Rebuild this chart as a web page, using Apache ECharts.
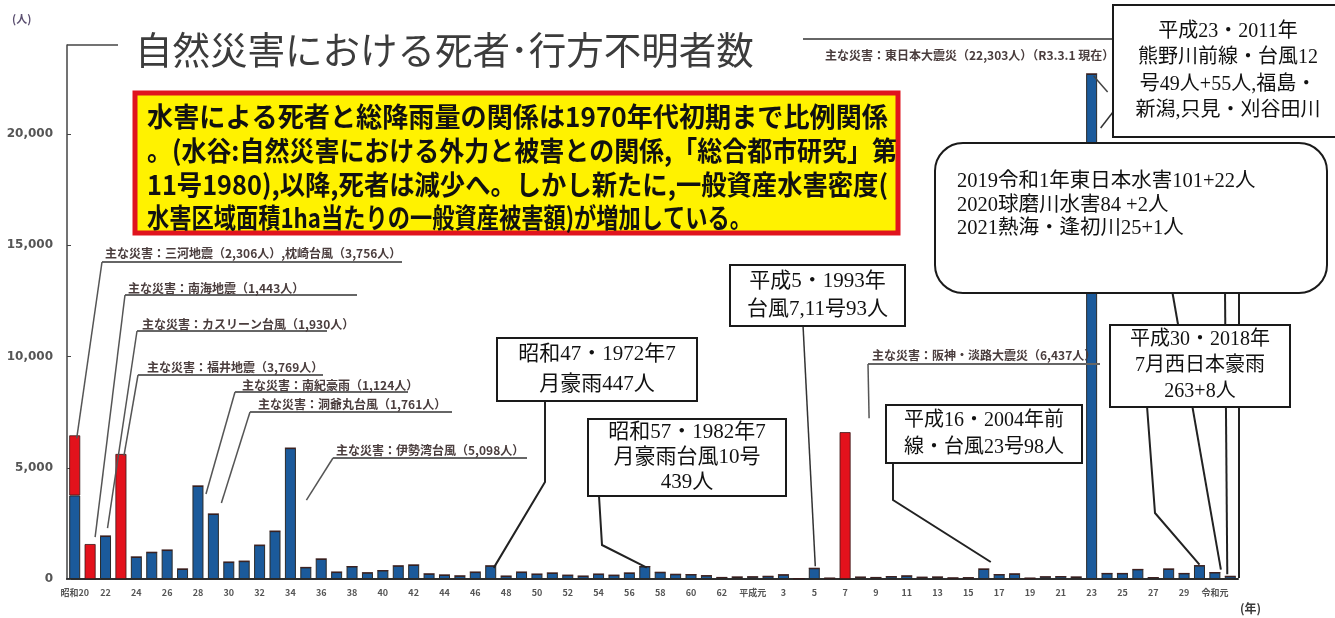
<!DOCTYPE html>
<html>
<head>
<meta charset="utf-8">
<script src="https://cdn.jsdelivr.net/npm/echarts@6/dist/echarts.min.js"></script>
<style>
  html, body { margin: 0; padding: 0; background: #fff; }
  #chart { width: 1335px; height: 618px; }
</style>
</head>
<body>
<div id="chart"></div>
<script>
// Year tick labels, 1945 (昭和20) to 2020 (令和2)
const yearLabels = [
  '昭和20','21','22','23','24','25','26','27','28','29',
  '30','31','32','33','34','35','36','37','38','39',
  '40','41','42','43','44','45','46','47','48','49',
  '50','51','52','53','54','55','56','57','58','59',
  '60','61','62','63',
  '平成元','2','3','4','5','6','7','8','9','10',
  '11','12','13','14','15','16','17','18','19','20',
  '21','22','23','24','25','26','27','28','29','30',
  '令和元','2'
];

// Deaths and missing persons per year (人): storms, floods and other disasters
const stormFlood = [
  3756, 0, 1930, 0, 990, 1200, 1300, 450, 4180, 2920,     // 1945-1954
  760, 800, 1520, 2150, 5880, 520, 900, 310, 560, 280,     // 1955-1964
  380, 590, 630, 230, 180, 140, 310, 590, 130, 310,        // 1965-1974
  220, 270, 170, 130, 220, 170, 270, 560, 300, 210,        // 1975-1984
  200, 150, 70, 90, 100, 120, 190, 20, 480, 40,            // 1985-1994
  0, 85, 70, 110, 140, 80, 90, 50, 60, 450,                // 1995-2004
  200, 230, 40, 100, 110, 90, 22700, 250, 250, 430,        // 2005-2014
  65, 450, 250, 600, 290, 120                              // 2015-2020
];

// Deaths and missing persons per year (人): major earthquakes
const earthquake = [
  2700, 1570, 0, 5620, 0, 0, 0, 0, 0, 0,
  0, 0, 0, 0, 0, 0, 0, 0, 0, 0,
  0, 0, 0, 0, 0, 0, 0, 0, 0, 0,
  0, 0, 0, 0, 0, 0, 0, 0, 0, 0,
  0, 0, 0, 0, 0, 0, 0, 0, 0, 0,
  6600, 0, 0, 0, 0, 0, 0, 0, 0, 0,
  0, 0, 0, 0, 0, 0, 0, 0, 0, 0,
  0, 0, 0, 0, 0, 0
];

const titleText = '自然災害における死者･行方不明者数';
const noteLines = [
  '水害による死者と総降雨量の関係は1970年代初期まで比例関係',
  '。(水谷:自然災害における外力と被害との関係,「総合都市研究」第',
  '11号1980),以降,死者は減少へ。しかし新たに,一般資産水害密度(',
  '水害区域面積1ha当たりの一般資産被害額)が増加している。'
];
// width each note line is condensed to
const noteWidths = [741, 750, 741, 605];

const chart = echarts.init(document.getElementById('chart'), null, { renderer: 'canvas' });

chart.setOption({
  animation: false,
  backgroundColor: '#ffffff',
  grid: { left: 67, right: 97, top: 45, bottom: 39 },
  xAxis: {
    type: 'category',
    data: yearLabels,
    axisLine: { lineStyle: { color: '#2e2e2e', width: 2 } },
    axisTick: { show: false },
    axisLabel: {
      interval: 1, fontSize: 9, fontWeight: 'bold', color: '#555',
      margin: 9, fontFamily: 'Noto Sans CJK JP'
    }
  },
  yAxis: {
    type: 'value',
    min: 0, max: 24000, interval: 5000,
    axisLine: { show: true, lineStyle: { color: '#444', width: 1.5 } },
    axisTick: { show: true, inside: true, length: 4, lineStyle: { color: '#444' } },
    splitLine: { show: false },
    axisLabel: {
      showMaxLabel: false, fontSize: 12, fontWeight: 'bold', color: '#555', margin: 14,
      fontFamily: 'DejaVu Sans',
      formatter: v => v.toLocaleString('en-US')
    }
  },
  series: [
    {
      name: '風水害等', type: 'bar', stack: 'total', data: stormFlood, barWidth: 11,
      itemStyle: { color: '#1b5a9b', borderColor: '#2a2a2a', borderWidth: 1 }
    },
    {
      name: '地震', type: 'bar', stack: 'total', data: earthquake, barWidth: 11,
      itemStyle: { color: '#e3121c', borderColor: '#3a1a1a', borderWidth: 0.8 }
    }
  ]
});

// pixel position of the top of a year's bar
function barTop(i) {
  return chart.convertToPixel({ xAxisIndex: 0, yAxisIndex: 0 }, [i, stormFlood[i] + earthquake[i]]);
}

const g = [];
const idx = y => y - 1945;

function line(points, color, width, z) {
  g.push({ type: 'polyline', z: z || 10, shape: { points: points },
           style: { stroke: color || '#222', lineWidth: width || 2, fill: null } });
}
function text(x, y, str, style, extra) {
  g.push(Object.assign({ type: 'text', x: x, y: y, z: 20,
    style: Object.assign({ text: str, fill: '#222', textVerticalAlign: 'middle' }, style) }, extra || {}));
}
function box(x, y, w, h, lines, lineGap, fontSize, r, z) {
  g.push({ type: 'rect', z: z || 30, shape: { x: x, y: y, width: w, height: h, r: r || 0 },
           style: { fill: '#fff', stroke: '#1a1a1a', lineWidth: 2 } });
  const cx = x + w / 2;
  const startY = y + h / 2 - (lines.length - 1) * lineGap / 2;
  lines.forEach((s, k) => {
    g.push({ type: 'text', z: (z || 30) + 1, x: cx, y: startY + k * lineGap,
      style: { text: s, fill: '#111', textAlign: 'center', textVerticalAlign: 'middle',
               font: fontSize + 'px "Liberation Serif", "Noto Sans CJK JP"' } });
  });
}

// title with its bracket joined to the value axis
line([[67, 45], [118, 45]], '#444', 1.5);
text(135, 50, titleText, { font: '37.5px "Noto Sans CJK JP"', fill: '#3c3c3c' });

// axis units
text(12, 19, '(人)', { font: 'bold 11px "Noto Sans CJK JP"', fill: '#5b4f70' });
text(1240, 608, '(年)', { font: 'bold 12px "Noto Sans CJK JP"', fill: '#3a3a3a' });

// yellow note box, each line condensed to its width
g.push({ type: 'rect', z: 15, shape: { x: 135, y: 93, width: 763, height: 140 },
         style: { fill: '#fff200', stroke: '#e0141e', lineWidth: 5 } });
const noteFont = 'bold 27px "Noto Sans CJK JP"';
const ctx = document.createElement('canvas').getContext('2d');
ctx.font = noteFont;
noteLines.forEach((s, k) => {
  const sx = noteWidths[k] / ctx.measureText(s).width;
  g.push({ type: 'text', z: 16, x: 147, y: 117 + k * 33.7, scaleX: sx,
           style: { text: s, font: noteFont, fill: '#111', textVerticalAlign: 'middle' } });
});

// major disaster captions with underline and leader to the bar
const capStyle = { font: 'bold 12px "Noto Sans CJK JP"', fill: '#4a3d3d' };
function caption(x, y, str, ux0, ux1, uy, target) {
  text(x, y, str, capStyle);
  line([[ux0, uy], [ux1, uy]], '#666', 2);
  line([[ux0, uy], target], '#555', 1.5);
}
let p;
p = barTop(idx(1945));
caption(105, 253, '主な災害：三河地震（2,306人）,枕崎台風（3,756人）', 102, 402, 262, [p[0] + 2, p[1] + 3]);
p = barTop(idx(1946));
caption(128, 288, '主な災害：南海地震（1,443人）', 125, 357, 295, [p[0] + 5, p[1] - 7]);
p = barTop(idx(1947));
caption(142, 324, '主な災害：カスリーン台風（1,930人）', 137, 327, 331, [p[0] + 2, p[1] - 8]);
p = barTop(idx(1948));
caption(147, 367, '主な災害：福井地震（3,769人）', 138, 323, 375, [p[0] + 3, p[1] + 2]);
p = barTop(idx(1953));
caption(242, 385, '主な災害：南紀豪雨（1,124人）', 235, 408, 392, [p[0] + 8, p[1] + 8]);
p = barTop(idx(1954));
caption(258, 404, '主な災害：洞爺丸台風（1,761人）', 250, 452, 412, [p[0] + 8, p[1] - 11]);
p = barTop(idx(1959));
caption(336, 450, '主な災害：伊勢湾台風（5,098人）', 333, 527, 458, [p[0] + 16, p[1] + 52]);
p = barTop(idx(1995));
caption(872, 355, '主な災害：阪神・淡路大震災（6,437人）', 868, 1100, 364, [p[0] + 24, p[1] - 14]);

// 2011 caption sits under its rule
text(825, 55, '主な災害：東日本大震災（22,303人）（R3.3.1 現在）', { font: 'bold 12px "Noto Sans CJK JP"', fill: '#4a3d3d' });
line([[803, 39], [1113, 39]], '#666', 2);
p = barTop(idx(2011));
line([[p[0] + 2, p[1] + 2], [p[0] + 16, p[1] + 18]], '#444', 1.5);

// leaders from the callout boxes
p = barTop(idx(1972));
line([[545, 400], [545, 482], [p[0] + 3, p[1] + 2]], '#222', 2);
p = barTop(idx(1982));
line([[599, 496], [602, 545], [p[0] + 2, p[1] + 1]], '#222', 2);
p = barTop(idx(1993));
line([[803, 325], [p[0] + 1, p[1] - 2]], '#333', 1.5);
p = barTop(idx(2004));
line([[893, 463], [893, 500], [p[0] + 7, p[1] - 7]], '#222', 2);
p = barTop(idx(2011));
line([[1113, 112], [p[0] + 9, 128]], '#333', 1.5);
p = barTop(idx(2018));
line([[1147, 406], [1155, 513], [p[0], p[1] - 1]], '#222', 2);
p = barTop(idx(2019));
line([[1172, 290], [p[0] + 6, p[1] - 3]], '#222', 2);
p = barTop(idx(2020));
line([[1225, 290], [p[0] - 3, p[1] - 2]], '#222', 2);
line([[1239, 290], [1239, 578]], '#222', 2);

// callout boxes
box(497, 338, 200, 63, ['昭和47・1972年7', '月豪雨447人'], 30, 21);
box(588, 419, 198, 77, ['昭和57・1982年7', '月豪雨台風10号', '439人'], 25, 21);
box(730, 265, 175, 61, ['平成5・1993年', '台風7,11号93人'], 28, 21);
box(886, 405, 196, 58, ['平成16・2004年前', '線・台風23号98人'], 27, 20);
g.push({ type: 'rect', z: 25, shape: { x: 935, y: 143, width: 392, height: 150, r: 28 },
         style: { fill: '#fff', stroke: '#1a1a1a', lineWidth: 2 } });
['2019令和1年東日本水害101+22人', '2020球磨川水害84 +2人', '2021熱海・逢初川25+1人'].forEach((s, k) => {
  g.push({ type: 'text', z: 26, x: 957, y: 182 + k * 23.5,
           style: { text: s, fill: '#111', textVerticalAlign: 'middle',
                    font: '20.5px "Liberation Serif", "Noto Sans CJK JP"' } });
});
box(1110, 325, 180, 82, ['平成30・2018年', '7月西日本豪雨', '263+8人'], 26, 20);
box(1113, 5, 230, 132, ['平成23・2011年', '熊野川前線・台風12', '号49人+55人,福島・', '新潟,只見・刈谷田川'], 26.5, 20, 0, 32);

chart.setOption({ graphic: { elements: g } });
</script>
</body>
</html>
